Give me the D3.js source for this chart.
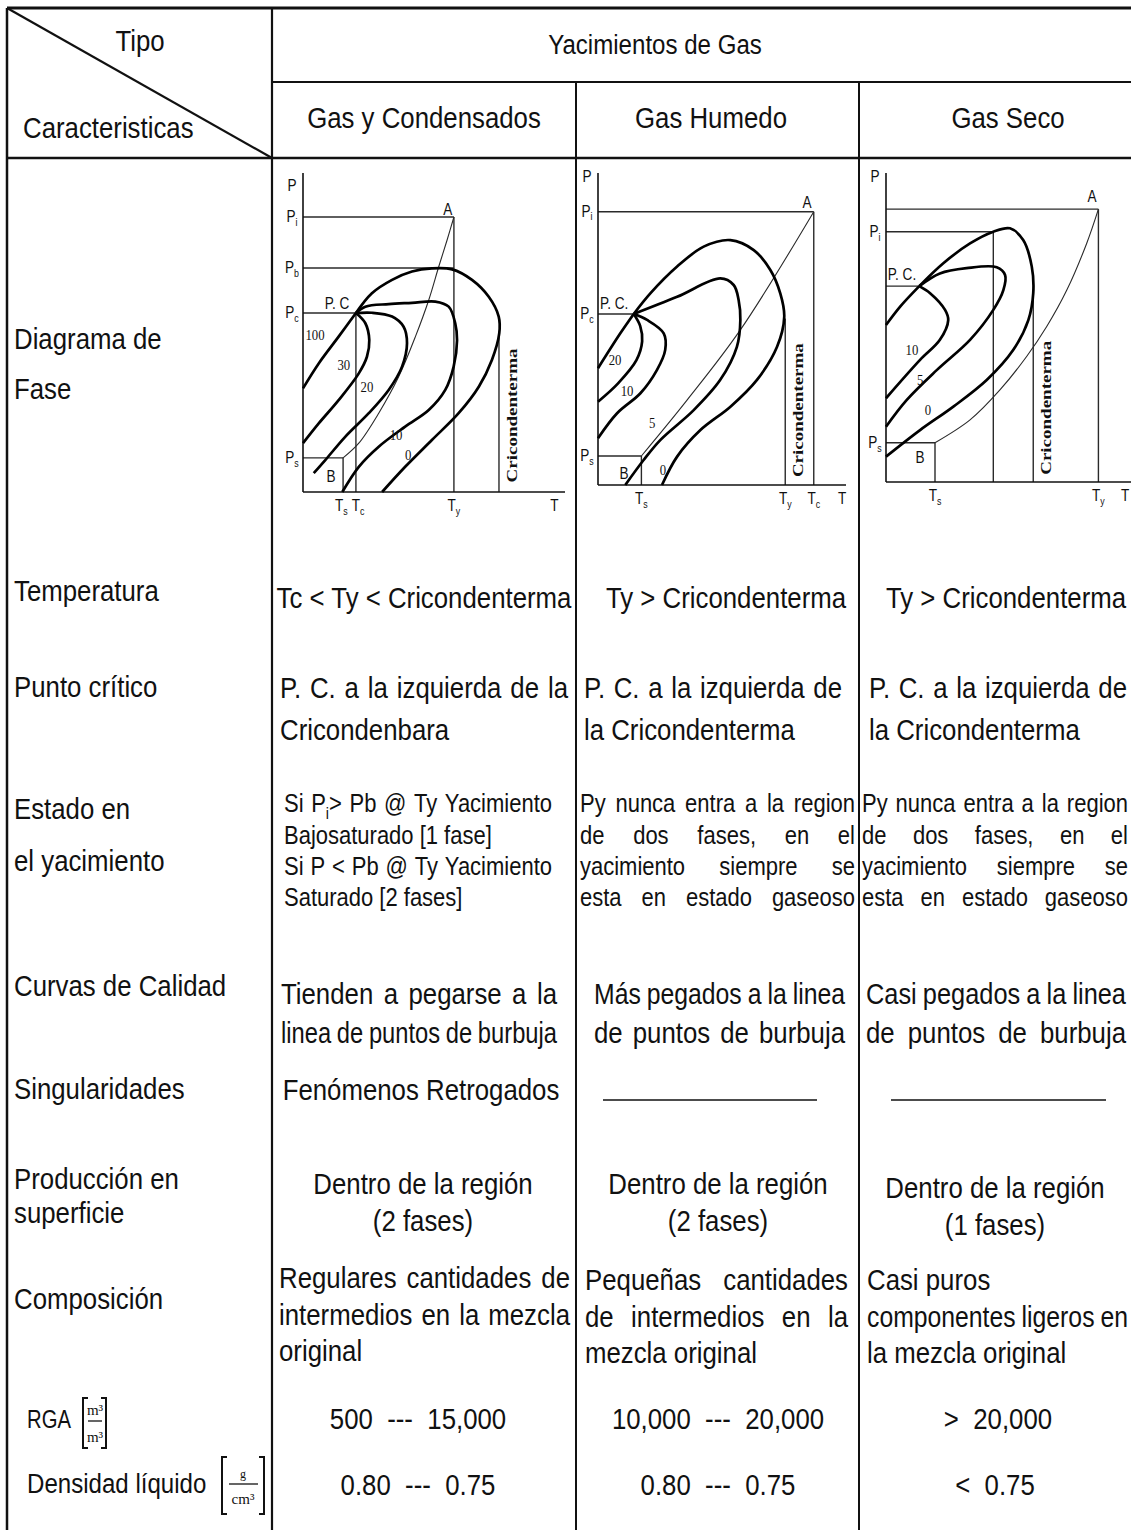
<html>
<head>
<meta charset="utf-8">
<script src="https://d3js.org/d3.v7.min.js"></script>
<style>body{margin:0;background:#fff}</style>
</head>
<body>
<script>
// ---------- table texts ----------
const headTipo = "Tipo";
const headCarac = "Caracteristicas";
const headGroup = "Yacimientos de Gas";
const types = ["Gas y Condensados", "Gas Humedo", "Gas Seco"];

const rowLabels = [["Diagrama de", "Fase"], ["Temperatura"], ["Punto crítico"], ["Estado en", "el yacimiento"],
  ["Curvas de Calidad"], ["Singularidades"], ["Producción en", "superficie"], ["Composición"], ["RGA"], ["Densidad líquido"]];

const temperatura = [["Tc < Ty < Cricondenterma"], ["Ty > Cricondenterma"], ["Ty > Cricondenterma"]];
const puntoCritico = [["P. C. a la izquierda de la", "Cricondenbara"], ["P. C. a la izquierda de", "la Cricondenterma"], ["P. C. a la izquierda de", "la Cricondenterma"]];
const estado = [["Si P_i> Pb @ Ty Yacimiento", "Bajosaturado [1 fase]", "Si P < Pb @ Ty Yacimiento", "Saturado [2 fases]"],
  ["Py nunca entra a la region", "de dos fases, en el", "yacimiento siempre se", "esta en estado gaseoso"],
  ["Py nunca entra a la region", "de dos fases, en el", "yacimiento siempre se", "esta en estado gaseoso"]];
const curvasCalidad = [["Tienden a pegarse a la", "linea de puntos de burbuja"], ["Más pegados a la linea", "de puntos de burbuja"], ["Casi pegados a la linea", "de puntos de burbuja"]];
const singularidades = [["Fenómenos Retrogados"], [], []];
const produccion = [["Dentro de la región", "(2 fases)"], ["Dentro de la región", "(2 fases)"], ["Dentro de la región", "(1 fases)"]];
const composicion = [["Regulares cantidades de", "intermedios en la mezcla", "original"], ["Pequeñas cantidades", "de intermedios en la", "mezcla original"], ["Casi puros", "componentes ligeros en", "la mezcla original"]];
const rga = [["500  ---  15,000"], ["10,000  ---  20,000"], [">  20,000"]];
const densidad = [["0.80  ---  0.75"], ["0.80  ---  0.75"], ["<  0.75"]];

// ---------- phase diagram values (T, P in 0-100 units of each sketch) ----------
// Gas y Condensados
const gcHLines = [[86.2, 57.6], [70.2, 57.6], [56.1, 20.2], [10.7, 15.3]];   // [P, T end]
const gcVLines = [[57.6, 86.2], [20.2, 56.1], [15.3, 10.7], [74.8, 48.6]];   // [T, P top]
const gcCricon = 74.8;
const gc100 = [[20.2, 56.1], [13.6, 48.7], [6.0, 40.3], [0, 32.5]];
const gc30 = [[20.2, 56.1], [23.8, 52.9], [25.3, 47.6], [24.4, 42.4], [21.3, 37.2], [13.6, 28.8], [6.0, 21.5], [0, 15.3]];
const gc20 = [[20.2, 56.1], [26.3, 56.2], [34.0, 55.0], [38.4, 51.8], [39.7, 46.6], [37.8, 39.3], [32.7, 32.0], [25.1, 24.7], [16.1, 17.3], [8.5, 10.0], [4.1, 5.9]];
const gc10 = [[20.2, 56.1], [23.8, 58.1], [32.7, 58.9], [41.6, 59.3], [50.5, 59.7], [55.6, 58.1], [58.1, 52.9], [58.8, 47.6], [57.5, 39.3], [54.3, 32.0], [48.0, 25.7], [39.0, 20.5], [28.9, 14.2], [21.3, 7.9], [15.0, 0]];
const gc0 = [[20.2, 56.1], [26.3, 62.3], [34.0, 66.5], [41.6, 69.1], [49.2, 70.1], [56.9, 69.8], [64.5, 66.5], [70.9, 61.2], [74.7, 55.0], [74.9, 49.7], [72.1, 41.4], [67.1, 33.0], [59.4, 24.7], [49.2, 16.3], [39.0, 7.9], [30.2, 0]];
const gcYac = [[15.3, 10.7], [21.3, 15.3], [28.9, 24.7], [36.5, 36.1], [42.9, 48.7], [48.0, 60.2], [51.8, 70.6], [55.0, 79.0], [57.6, 86.2]];
const gcPLabels = [["P", 96.2], ["P_i", 86.2], ["P_b", 70.2], ["P_c", 56.1], ["P_s", 10.7]];
const gcTLabels = [["T_s", 14.6], ["T_c", 21.0], ["T_y", 57.6], ["T", 96]];
const gcQuality = [["100", 4.6, 49.2], ["30", 15.6, 39.8], ["20", 24.4, 32.9], ["10", 35.5, 17.9], ["0", 40.1, 11.6]];
const gcPoints = [["P. C", 13.0, 59.2], ["A", 55.3, 88.4], ["B", 10.7, 4.7]];

// Gas Humedo
const ghHLines = [[87.6, 87.0], [54.8, 14.4], [9.3, 17.5]];
const ghVLines = [[87.0, 87.6], [17.5, 9.3], [75.5, 53.4]];
const ghCricon = 75.5;
const ghBub = [[14.4, 54.8], [9.0, 48.6], [0, 37.4]];
const gh20 = [[14.4, 54.8], [17.0, 51.0], [17.8, 46.0], [15.5, 40.0], [8.0, 32.5], [0, 26.7]];
const gh10 = [[14.4, 54.8], [19.8, 52.9], [26.5, 48.6], [27.1, 43.3], [23.8, 36.9], [17.1, 29.4], [7.7, 23.0], [0, 15.0]];
const gh5 = [[14.4, 54.8], [31.9, 60.3], [49.3, 66.2], [54.7, 64.1], [56.7, 59.3], [57.4, 52.9], [56.0, 44.3], [49.3, 33.7], [38.6, 24.0], [25.1, 14.4], [18.4, 8.0], [11.0, 0]];
const gh0 = [[14.4, 54.8], [21.1, 61.4], [31.9, 70.0], [42.6, 76.4], [53.4, 78.5], [62.8, 75.3], [69.5, 68.9], [73.5, 61.4], [75.1, 53.9], [72.2, 44.3], [64.1, 33.7], [53.4, 25.1], [41.3, 17.6], [31.9, 9.1], [25.8, 0]];
const ghYac = [[17.5, 9.3], [35.9, 27.2], [57.4, 49.7], [87.0, 87.6]];
const ghPLabels = [["P", 98.7], ["P_i", 87.6], ["P_c", 54.8], ["P_s", 9.3]];
const ghTLabels = [["T_s", 17.5], ["T_y", 75.5], ["T_c", 87.0], ["T", 98.4]];
const ghQuality = [["20", 6.9, 40.1], ["10", 11.7, 30.4], ["5", 21.8, 19.9], ["0", 26.2, 4.8]];
const ghPoints = [["P. C.", 6.5, 58.0], ["A", 84.3, 90.4], ["B", 10.5, 3.8]];

// Gas Seco
const gsHLines = [[88.3, 86.7], [81.0, 43.8], [63.4, 13.6], [12.7, 20.0]];
const gsVLines = [[86.7, 88.3], [43.8, 81.0], [20.0, 12.7], [60.1, 61.1]];
const gsCricon = 60.1;
const gsBub = [[13.6, 63.4], [5.7, 56.7], [0, 50.8]];
const gs10 = [[13.6, 63.4], [18.0, 61.1], [24.1, 55.7], [25.4, 52.4], [22.0, 46.0], [13.9, 39.5], [0, 27.1]];
const gs5 = [[13.6, 63.4], [22.0, 67.5], [32.9, 69.2], [45.2, 69.5], [48.6, 67.0], [47.9, 62.1], [43.8, 55.7], [34.3, 46.0], [20.7, 36.2], [8.4, 26.5], [0, 17.9]];
const gs0 = [[13.6, 63.4], [23.4, 70.8], [34.3, 77.2], [43.8, 81.0], [50.6, 82.1], [56.0, 78.3], [59.5, 69.7], [60.1, 61.1], [58.1, 52.4], [51.9, 42.7], [41.1, 33.0], [27.5, 24.4], [13.9, 16.8], [0, 8.2]];
const gsYac = [[20.0, 12.7], [34.3, 20.1], [46.5, 29.8], [57.4, 40.6], [65.6, 50.3], [73.8, 62.1], [81.9, 77.2], [86.7, 88.3]];
const gsPLabels = [["P", 98.7], ["P_i", 81.0], ["P_s", 12.7]];
const gsTLabels = [["T_s", 20.0], ["T_y", 86.7], ["T", 97.6]];
const gsQuality = [["10", 10.6, 42.7], ["5", 13.9, 33.0], ["0", 17.1, 23.3]];
const gsPoints = [["P. C.", 6.5, 67.0], ["A", 84.1, 92.2], ["B", 13.9, 7.8]];

// ---------- drawing ----------
const SX = 0.86;
const SANS = "'Liberation Sans', Arial, Helvetica, sans-serif";
const SERIF = "'Liberation Serif', 'Times New Roman', serif";
const INK = "#111";

const svg = d3.select("body").append("svg").attr("width", 1131).attr("height", 1530);

// "P_i" -> P with subscript i
function appendRich(parent, str, size) {
  const parts = str.split(/_(\w)/);
  parts.forEach((p, i) => {
    if (!p) return;
    const sp = parent.append("tspan").text(p);
    if (i % 2) sp.attr("font-size", size * 0.65).attr("dy", size * 0.28);
    else if (i > 0) sp.attr("dy", -size * 0.28);
  });
}

function addText(g, str, x, y, o = {}) {
  const size = o.size || 30, sx = o.sx || SX;
  const t = g.append("text")
    .attr("transform", `translate(${x},${y}) scale(${sx},1)`)
    .attr("font-family", o.font || SANS)
    .attr("font-size", size)
    .attr("font-weight", o.weight || "normal")
    .attr("text-anchor", o.anchor || "start")
    .attr("fill", INK)
    .style("white-space", "pre");
  if (o.central) t.attr("dominant-baseline", "central");
  if (o.justify) {
    // spread words over the given width, squeeze when they do not fit
    const words = str.split(/\s+/);
    const spans = words.map(w => { const s = t.append("tspan"); appendRich(s, w, size); return s; });
    const widths = spans.map(s => s.node().getComputedTextLength());
    const n = words.length, sum = d3.sum(widths), minGap = size * 0.24;
    let gap = n > 1 ? (o.justify / sx - sum) / (n - 1) : 0;
    if (n > 1 && gap < minGap) {
      gap = minGap;
      const k = o.justify / (sum + minGap * (n - 1));
      t.attr("transform", `translate(${x},${y}) scale(${k},1)`);
    }
    let cx = 0;
    spans.forEach((s, i) => { s.attr("x", cx); cx += widths[i] + gap; });
  } else {
    appendRich(t, str, size);
  }
  return t;
}

function line(g, x1, y1, x2, y2, w, c) {
  g.append("line").attr("x1", x1).attr("y1", y1).attr("x2", x2).attr("y2", y2)
    .attr("stroke", c || INK).attr("stroke-width", w || 2);
}

// frame
const grid = svg.append("g");
line(grid, 7, 8, 1131, 8, 3);
line(grid, 7, 8, 7, 1530, 2.5);
line(grid, 272, 82, 1131, 82, 2.2);
line(grid, 7, 158, 1131, 158, 2.5);
line(grid, 7, 8, 272, 158, 2.2);
line(grid, 272, 8, 272, 1530, 2.2);
line(grid, 576, 82, 576, 1530, 2);
line(grid, 859, 82, 859, 1530, 2);

// header
const head = svg.append("g");
addText(head, headTipo, 140, 51, {anchor: "middle"});
addText(head, headCarac, 23, 138);
addText(head, headGroup, 655, 54, {anchor: "middle", size: 28});
[424, 711, 1008].forEach((x, i) => addText(head, types[i], x, 128, {anchor: "middle"}));

// row labels
const labelBase = [[349, 399], [601], [697], [819, 871], [996], [1099], [1189, 1223], [1309], [1428], [1493]];
const labelSize = [30, 30, 30, 30, 30, 30, 30, 30, 26, 28];
const lab = svg.append("g");
rowLabels.forEach((lines, r) => {
  const x = r >= 8 ? 27 : 14;
  lines.forEach((s, k) => addText(lab, s, x, labelBase[r][k], {size: labelSize[r], sx: r === 8 ? 0.78 : SX}));
});

// unit brackets
function bracket(g, xl, xr, y0, y1) {
  g.append("path").attr("d", `M${xl + 5},${y0}H${xl}V${y1}H${xl + 5}M${xr - 5},${y0}H${xr}V${y1}H${xr - 5}`)
    .attr("fill", "none").attr("stroke", INK).attr("stroke-width", 2);
}
bracket(lab, 83, 106, 1398, 1448);
addText(lab, "m³", 95, 1415, {font: SERIF, size: 15, sx: 1, anchor: "middle"});
line(lab, 88, 1421, 102, 1421, 1.3);
addText(lab, "m³", 95, 1442, {font: SERIF, size: 15, sx: 1, anchor: "middle"});
bracket(lab, 222, 264, 1457, 1514);
addText(lab, "g", 243, 1478, {font: SERIF, size: 12, sx: 1, anchor: "middle"});
line(lab, 229, 1484, 258, 1484, 1.3);
addText(lab, "cm³", 243, 1504, {font: SERIF, size: 15, sx: 1, anchor: "middle"});

// body cells
const cellRows = [
  {data: temperatura, base: [608], cols: [{x: 424, a: "middle"}, {x: 726, a: "middle"}, {x: 1006, a: "middle"}]},
  {data: puntoCritico, base: [698, 740], cols: [{x: 280, j: [288]}, {x: 584, j: [258]}, {x: 869, j: [258]}]},
  {data: estado, base: [812, 844, 875, 906], size: 25, cols: [{x: 284, sx: 0.88, j: [268, null, 268]}, {x: 580, sx: 0.88, j: [275, 275, 275, 275]}, {x: 862, sx: 0.88, j: [266, 266, 266, 266]}]},
  {data: curvasCalidad, base: [1004, 1043], cols: [{x: 281, j: [276, 276]}, {x: 594, j: [251, 251]}, {x: 866, j: [260, 260]}]},
  {data: singularidades, base: [1100], cols: [{x: 421, a: "middle"}, {blank: [603, 817]}, {blank: [891, 1106]}]},
  {data: produccion, base: [1194, 1231], cols: [{x: 423, a: "middle"}, {x: 718, a: "middle"}, {x: 995, a: "middle", dy: 4}]},
  {data: composicion, base: [1290, 1327, 1363], cols: [{x: 279, j: [291, 291], dy: -2}, {x: 585, j: [263, 263]}, {x: 867, j: [null, 261]}]},
  {data: rga, base: [1429], cols: [{x: 418, a: "middle"}, {x: 718, a: "middle"}, {x: 998, a: "middle"}]},
  {data: densidad, base: [1495], cols: [{x: 418, a: "middle"}, {x: 718, a: "middle"}, {x: 995, a: "middle"}]}
];
const body = svg.append("g");
cellRows.forEach(row => {
  row.cols.forEach((c, ci) => {
    if (c.blank) { line(body, c.blank[0], row.base[0], c.blank[1], row.base[0], 1.3); return; }
    row.data[ci].forEach((s, k) => {
      const w = c.j ? c.j[k] : null;
      addText(body, s, c.x, row.base[k] + (c.dy || 0),
        {anchor: c.a || "start", size: row.size || 30, sx: c.sx || SX, justify: w || null});
    });
  });
});

// phase diagrams
const panels = [
  {frame: {ox: 303, oy: 492, xEnd: 565, yTop: 173}, h: gcHLines, v: gcVLines, cric: gcCricon, curves: [gc100, gc30, gc20, gc10, gc0], yac: gcYac, pl: gcPLabels, tl: gcTLabels, q: gcQuality, pts: gcPoints},
  {frame: {ox: 598, oy: 485, xEnd: 846, yTop: 173}, h: ghHLines, v: ghVLines, cric: ghCricon, curves: [ghBub, gh20, gh10, gh5, gh0], yac: ghYac, pl: ghPLabels, tl: ghTLabels, q: ghQuality, pts: ghPoints},
  {frame: {ox: 886, oy: 482, xEnd: 1131, yTop: 173}, h: gsHLines, v: gsVLines, cric: gsCricon, curves: [gsBub, gs10, gs5, gs0], yac: gsYac, pl: gsPLabels, tl: gsTLabels, q: gsQuality, pts: gsPoints}
];

panels.forEach(p => {
  const f = p.frame;
  const x = d3.scaleLinear().domain([0, 100]).range([f.ox, f.xEnd]);
  const y = d3.scaleLinear().domain([0, 100]).range([f.oy, f.yTop]);
  const g = svg.append("g");
  const ref = "#2a2a2a";

  p.h.forEach(d => line(g, x(0), y(d[0]), x(d[1]), y(d[0]), 1.4, ref));
  p.v.forEach(d => line(g, x(d[0]), y(0), x(d[0]), y(d[1]), 1.4, ref));
  line(g, x(0), y(0), x(0), y(100), 1.6);
  line(g, x(0), y(0), x(100), y(0), 1.6);

  const path = d3.line().x(d => x(d[0])).y(d => y(d[1])).curve(d3.curveCatmullRom.alpha(0.5));
  g.append("path").datum(p.yac).attr("d", path).attr("fill", "none").attr("stroke", ref).attr("stroke-width", 1.1);
  g.selectAll(".q").data(p.curves).join("path").attr("d", path)
    .attr("fill", "none").attr("stroke", "#000").attr("stroke-width", 2.7).attr("stroke-linejoin", "round");

  p.pl.forEach(d => addText(g, d[0], x(0) - 11, y(d[1]), {size: 16, sx: 0.85, anchor: "middle", central: true}));
  p.tl.forEach(d => addText(g, d[0], x(d[1]), y(0) + 19, {size: 16, sx: 0.85, anchor: "middle"}));
  p.q.forEach(d => addText(g, d[0], x(d[1]), y(d[2]), {font: SERIF, size: 15, sx: 0.85, anchor: "middle", central: true}));
  p.pts.forEach(d => addText(g, d[0], x(d[1]), y(d[2]), {size: 16, sx: 0.85, anchor: "middle", central: true}));

  g.append("text")
    .attr("transform", `translate(${x(p.cric) + 13},${y(24)}) rotate(-90)`)
    .attr("font-family", SERIF).attr("font-weight", "bold").attr("font-size", 15)
    .attr("text-anchor", "middle").attr("dominant-baseline", "central")
    .attr("textLength", 134).attr("lengthAdjust", "spacingAndGlyphs")
    .attr("fill", INK).text("Cricondenterma");
});
</script>
</body>
</html>
